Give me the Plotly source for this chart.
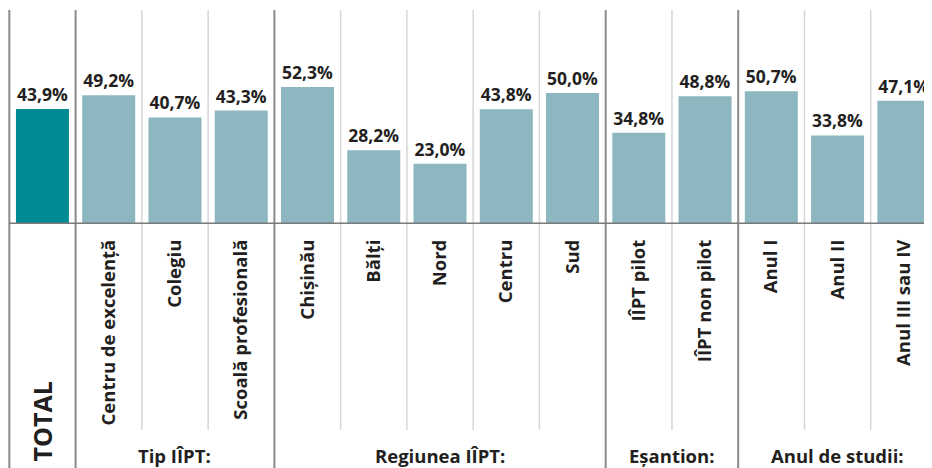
import plotly.graph_objects as go

categories = ["TOTAL", "Centru de excelență", "Colegiu", "Scoală profesională",
              "Chișinău", "Bălți", "Nord", "Centru", "Sud",
              "IÎPT pilot", "IÎPT non pilot",
              "Anul I", "Anul II", "Anul III sau IV"]
values = [43.9, 49.2, 40.7, 43.3, 52.3, 28.2, 23.0, 43.8, 50.0, 34.8, 48.8, 50.7, 33.8, 47.1]
tick_labels = [""] + categories[1:]
groups = ["Tip IÎPT:", "Regiunea IÎPT:", "Eșantion:", "Anul de studii:"]
group_sizes = [3, 5, 2, 3]

DARK = "#008a94"
LIGHT = "#8db7c0"
FONT = "Open Sans"
TXT = "#231f20"

colors = [DARK] + [LIGHT] * (len(categories) - 1)
xs = list(range(len(categories)))

fig = go.Figure()
fig.add_trace(go.Bar(
    x=xs, y=values, marker=dict(color=colors, line=dict(width=0)),
    width=0.8,
    texttemplate="%{y:.1f}%", textposition="outside", cliponaxis=False,
    textfont=dict(family=FONT, size=17.5, color=TXT, weight="bold"),
    hoverinfo="skip",
))

# page has an 8px body margin; figure is sized 924x460 so it fills the window
H_PLOT = 214.0
def py(pix):  # page pixel row -> paper y
    return (224 - pix) / H_PLOT

shapes = []
bounds = [-0.5, 0.5]
acc = 0.5
for s in group_sizes:
    acc += s
    bounds.append(acc)
dark_lines = bounds[:-1]
light_lines = []
start = 0.5
for s in group_sizes:
    for k in range(1, s):
        light_lines.append(start + k)
    start += s
for xv in light_lines:
    shapes.append(dict(type="line", xref="x", yref="paper", x0=xv, x1=xv,
                       y0=py(430), y1=1, line=dict(color="#d6d6d6", width=1.5), layer="below"))
for xv in dark_lines:
    shapes.append(dict(type="line", xref="x", yref="paper", x0=xv, x1=xv,
                       y0=py(480), y1=1, line=dict(color="#8a8a8a", width=2), layer="below"))
shapes.append(dict(type="line", xref="x", yref="y", x0=-0.5, x1=14, y0=0, y1=0,
                   line=dict(color="#7a7a7a", width=3), layer="above"))

annotations = [dict(text="TOTAL", x=0, xref="x", y=py(463), yref="paper",
                    xanchor="center", yanchor="bottom", textangle=-90, showarrow=False,
                    font=dict(family=FONT, size=25, color=TXT, weight="bold"))]
start = 0.5
for g, s in zip(groups, group_sizes):
    annotations.append(dict(text=g, x=start + s / 2, xref="x", y=py(441), yref="paper",
                            xanchor="center", yanchor="top", showarrow=False,
                            font=dict(family=FONT, size=18.5, color=TXT, weight="bold")))
    start += s

fig.update_layout(
    width=924, height=460,
    margin=dict(l=0, r=0, t=2, b=244),
    paper_bgcolor="white", plot_bgcolor="white",
    separators=",.",
    showlegend=False,
    shapes=shapes, annotations=annotations,
    xaxis=dict(range=[-0.52, 13.425], tickmode="array", tickvals=xs, ticktext=tick_labels,
               tickangle=-90, ticks="", showgrid=False, zeroline=False, showline=False,
               ticklabelstandoff=11,
               tickfont=dict(family=FONT, size=18.5, color=TXT, weight="bold")),
    yaxis=dict(range=[0, 81.7], visible=False, showgrid=False, zeroline=False),
)

fig.write_html("out.html")
